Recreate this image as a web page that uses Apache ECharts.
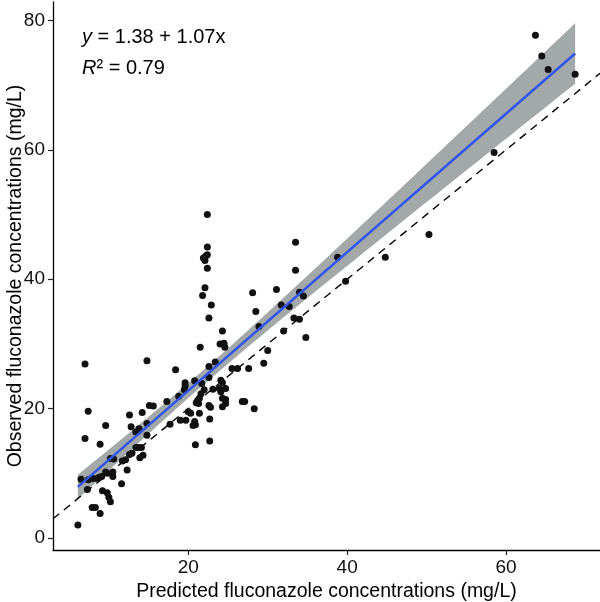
<!DOCTYPE html>
<html>
<head>
<meta charset="utf-8">
<script src="https://cdn.jsdelivr.net/npm/echarts@6/dist/echarts.min.js"></script>
<style>
html,body{margin:0;padding:0;background:#fff;}
#chart{width:600px;height:602px;}
</style>
</head>
<body>
<div id="chart"></div>
<script>
// Predicted (x) and observed (y) fluconazole concentrations, mg/L
const predicted = [
  6.1,7.9,8.3,8.9,7.3,9.2,9.8,10.0,10.2,6.5,7.4,8.0,8.5,8.8,9.1,9.6,9.8,10.5,10.5,11.6,
  12.3,10.2,10.6,11.7,12.1,12.6,12.9,13.4,13.7,14.1,13.9,14.3,13.4,14.8,8.9,7.0,9.6,7.4,7.0,12.6,
  12.8,13.8,14.2,14.8,14.8,15.1,15.6,17.3,17.7,
  18.4,18.8,19.0,19.7,19.5,19.6,19.6,20.0,20.3,20.6,20.8,20.9,20.9,20.8,21.0,21.3,21.4,21.4,21.5,21.6,
  22.0,21.7,22.6,22.6,22.6,22.7,22.7,23.1,23.4,23.9,24.1,24.1,24.3,24.3,24.7,24.7,24.0,24.5,24.6,24.3,
  25.5,26.2,27.6,26.8,27.1,28.3,29.5,30.0,28.9,28.5,28.1,31.1,31.7,32.7,32.0,33.3,34.0,34.8,34.0,34.5,
  33.5,33.5,
  24.7,22.8,24.3,21.2,
  22.4,22.4,21.9,22.2,22.1,22.4,22.4,22.1,21.8,22.9,22.6,
  38.8,39.8,44.8,50.3,58.5,63.7,64.5,65.3,68.7
];
const observed = [
  2.0,4.7,4.7,3.8,7.5,7.3,7.0,6.3,5.6,9.1,9.0,9.2,9.2,9.4,9.5,10.2,10.0,10.2,9.5,8.4,
  10.5,12.3,12.2,11.9,12.1,12.9,13.1,14.0,14.0,14.0,12.4,12.8,16.4,15.9,14.5,15.4,17.4,19.6,26.9,19.0,
  17.2,16.9,19.4,17.7,27.4,20.5,20.4,21.1,17.6,
  26.0,21.9,18.2,18.2,22.9,24.0,23.5,19.5,19.3,17.4,24.3,14.4,17.5,18.0,20.9,20.8,21.6,19.3,29.5,22.3,
  22.9,23.9,24.8,26.5,20.5,18.4,15.0,23.0,27.2,23.1,22.6,24.4,24.0,20.3,20.8,23.1,30.0,30.1,29.5,32.0,
  26.2,26.2,26.2,21.1,21.1,20.0,27.0,29.0,32.7,35.0,37.9,38.4,36.0,35.8,32.0,34.0,33.8,31.0,38.0,37.4,
  41.4,45.7,
  21.4,20.2,21.6,21.3,
  50.0,45.0,43.3,43.6,42.9,43.8,41.7,38.7,37.5,36.0,34.0,
  43.4,39.7,43.4,46.9,59.6,77.7,74.5,72.4,71.7
];
// Fit reported on the chart
const fitIntercept = 1.38;
const fitSlope = 1.07;
const rSquared = 0.79;
const xTicks = [20, 40, 60];
const yTicks = [0, 20, 40, 60, 80];
const xLimits = [2.97, 71.83];
const yLimits = [-1.85, 82.85];

const FONT = '"Liberation Sans", Arial, Helvetica, sans-serif';

// Points
const points = predicted.map((x, i) => [x, observed[i]]);

// Regression line and 95% confidence band (computed from the data, like geom_smooth)
const n = predicted.length;
const xMinD = Math.min(...predicted), xMaxD = Math.max(...predicted);
const xbar = predicted.reduce((a, b) => a + b, 0) / n;
let sxx = 0, ssr = 0;
for (let i = 0; i < n; i++) {
  sxx += (predicted[i] - xbar) ** 2;
  const r = observed[i] - (fitIntercept + fitSlope * predicted[i]);
  ssr += r * r;
}
const sRes = Math.sqrt(ssr / (n - 2));
const tCrit = 1.978;
const bandUpper = [], bandLower = [];
const steps = 80;
for (let k = 0; k <= steps; k++) {
  const x = xMinD + (xMaxD - xMinD) * k / steps;
  const yhat = fitIntercept + fitSlope * x;
  const hw = tCrit * sRes * Math.sqrt(1 / n + (x - xbar) ** 2 / sxx);
  bandUpper.push([x, yhat + hw]);
  bandLower.push([x, yhat - hw]);
}
const fitLine = [[xMinD, fitIntercept + fitSlope * xMinD], [xMaxD, fitIntercept + fitSlope * xMaxD]];
const identity = [[xLimits[0], xLimits[0]], [xLimits[1], xLimits[1]]];

const chart = echarts.init(document.getElementById('chart'), null, {renderer: 'canvas'});

const axisCommon = {
  type: 'value',
  splitLine: {show: false},
  axisLine: {show: true, onZero: false, lineStyle: {color: '#000', width: 1.3}},
  axisTick: {show: true, inside: false, length: 5, lineStyle: {color: '#222', width: 1.2}},
  axisLabel: {color: '#111', fontSize: 19, fontFamily: FONT, margin: 8},
  nameLocation: 'middle',
  nameMoveOverlap: false,
  nameTextStyle: {color: '#000', fontSize: 19.5, fontFamily: FONT}
};

chart.setOption({
  animation: false,
  backgroundColor: '#fff',
  grid: {left: 53, right: 0, top: 2, bottom: 52, containLabel: false, outerBoundsMode: 'none'},
  xAxis: Object.assign({}, axisCommon, {
    min: xLimits[0], max: xLimits[1],
    name: 'Predicted fluconazole concentrations (mg/L)',
    nameGap: 32,
    axisTick: Object.assign({}, axisCommon.axisTick, {customValues: xTicks}),
    axisLabel: Object.assign({}, axisCommon.axisLabel, {customValues: xTicks, margin: 8})
  }),
  yAxis: Object.assign({}, axisCommon, {
    min: yLimits[0], max: yLimits[1],
    name: 'Observed fluconazole concentrations (mg/L)',
    nameGap: 27,
    axisTick: Object.assign({}, axisCommon.axisTick, {customValues: yTicks}),
    axisLabel: Object.assign({}, axisCommon.axisLabel, {customValues: yTicks})
  }),
  graphic: [
    {
      type: 'text', left: 82, top: 27, z: 100,
      style: {
        text: '{i|y} = ' + fitIntercept.toFixed(2) + ' + ' + fitSlope.toFixed(2) + 'x',
        fill: '#000', fontSize: 20, fontFamily: FONT,
        rich: {i: {fontStyle: 'italic', fontSize: 20, fontFamily: FONT, fill: '#000'}}
      }
    },
    {
      type: 'text', left: 82, top: 58, z: 100,
      style: {
        text: '{i|R}² = ' + rSquared.toFixed(2),
        fill: '#000', fontSize: 20, fontFamily: FONT,
        rich: {i: {fontStyle: 'italic', fontSize: 20, fontFamily: FONT, fill: '#000'}}
      }
    }
  ],
  series: [
    {
      type: 'custom',
      z: 1,
      silent: true,
      data: [bandUpper[0]],
      renderItem: function (params, api) {
        const pts = bandUpper.map(p => api.coord(p)).concat(bandLower.slice().reverse().map(p => api.coord(p)));
        return {type: 'polygon', shape: {points: pts}, style: {fill: '#a3a8a8', stroke: null}};
      }
    },
    {
      type: 'line',
      z: 2,
      data: identity,
      symbol: 'none',
      silent: true,
      lineStyle: {color: '#000', width: 1.4, type: [8, 6]}
    },
    {
      type: 'scatter',
      z: 3,
      data: points,
      symbolSize: 7,
      itemStyle: {color: '#111', opacity: 1}
    },
    {
      type: 'line',
      z: 4,
      data: fitLine,
      symbol: 'none',
      silent: true,
      lineStyle: {color: '#3355ee', width: 2.6}
    }
  ]
});
</script>
</body>
</html>
